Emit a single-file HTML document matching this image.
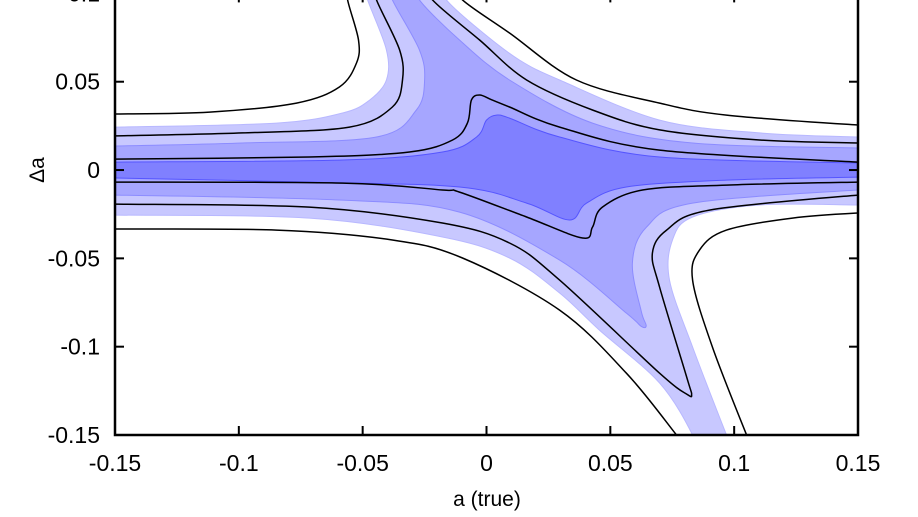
<!DOCTYPE html>
<html><head><meta charset="utf-8"><style>
html,body{margin:0;padding:0;background:#fff;}
svg{display:block;font-family:"Liberation Sans",sans-serif;}
</style></head><body>
<svg id="chart" width="918" height="517" viewBox="0 0 918 517">
<defs><clipPath id="plotclip"><rect x="115" y="-7" width="743" height="442"/></clipPath></defs>
<g id="fills" clip-path="url(#plotclip)"></g>
<g id="lines" clip-path="url(#plotclip)"></g>
<g id="axes"></g>
<text x="487" y="506" font-size="21" text-anchor="middle">a (true)</text>
<text x="44" y="170" font-size="21" text-anchor="middle" transform="rotate(-90 44 170)">Δa</text>
</svg>
<script>
// values in thousandths (a, Δa)
const xTicks = [-0.15,-0.1,-0.05,0,0.05,0.1,0.15];
const xTickLabels = ["-0.15","-0.1","-0.05","0","0.05","0.1","0.15"];
const yTicks = [-0.15,-0.1,-0.05,0,0.05,0.1];
const yTickLabels = ["-0.15","-0.1","-0.05","0","0.05","0.1"];

const lightFill = [
 [[-160,24.3],[-149.4,24.3],[-84.8,26.6],[-58.1,32.3],[-47.2,39.6],[-40.4,51.0],[-40.4,68.0],[-48,96.3],[-49,105]],
 [[-18,105],[-16.2,96.3],[-2.8,79.3],[13.3,62.3],[29.5,51.0],[69.9,28.3],[110.2,21.0],[150,18.7],[160,18.7]],
 [[160,-19.8],[150,-19.8],[110.2,-19.8],[83.2,-26.6],[75.1,-39.6],[73.9,-62.3],[83.2,-100.2],[96.9,-150],[100,-160]],
 [[84,-160],[83.2,-150],[69.9,-120.6],[45.6,-90.6],[29.5,-69.6],[9.3,-49.8],[-17.8,-37.9],[-71.5,-27.2],[-149.4,-25.5],[-160,-25.5]]
];
const midFill = [
 [[-160,13.6],[-149.4,13.6],[-98.5,15.3],[-44.4,18.7],[-28.3,34.0],[-25.0,51.0],[-27.1,68.0],[-38,96.3],[-39,105]],
 [[-28,105],[-27.1,96.3],[-10.9,73.6],[9.3,51.0],[42.8,26.6],[83.2,15.3],[150,12.5],[160,12.5]],
 [[160,-11.3],[150,-11.3],[83.2,-18.7],[64.6,-32.3],[58.9,-52.7],[62.5,-80],[64.5,-88],[62.5,-88.5],[56.5,-81],[29.5,-51],[-10.9,-23.8],[-58.1,-17],[-149.4,-14.2],[-160,-14.2]]
];
const darkFill = [
 [[-160,4.5],[-149.4,4.5],[-58.1,5.7],[-17.8,10.2],[-4.0,18.7],[0,28.3],[4.0,31.1],[9.3,29.4],[29.5,18.7],[69.9,7.4],[150,4.0],[160,4.0]],
 [[160,-4.0],[150,-4.0],[96.9,-5.7],[56.5,-9.6],[40.4,-18.7],[33.5,-28.3],[16.2,-18.7],[-10.9,-9.6],[-71.5,-6.8],[-149.4,-4.5],[-160,-4.5]]
];
const contourLines = [
 [[-56.1,105],[-56.1,96.3],[-51.7,73.6],[-52.5,60.6],[-59.4,47.0],[-76.7,37.9],[-111.8,32.8],[-150,31.7],[-160,31.7]],
 [[-12,105],[-9.7,96.3],[9.3,77.6],[36.3,51.0],[69.9,37.9],[96.9,31.1],[150,25.5],[160,25.3]],
 [[-160,-33.4],[-150,-33.4],[-84.8,-34.0],[-38,-39.6],[-9.7,-49.8],[29.5,-79.3],[56.5,-115],[76.7,-150],[80,-156]],
 [[108,-160],[105,-150],[91.2,-100.2],[83.2,-62.3],[86,-45.3],[96.9,-34],[123.5,-27.2],[150,-24.3],[160,-24.3]],
 [[-45,105],[-44.4,96.3],[-35.1,68.0],[-33.9,51.0],[-38,35.7],[-55.3,24.3],[-98.5,21.0],[-150,19.3],[-160,19.3]],
 [[-23,105],[-21.8,96.3],[-2.8,73.6],[16.2,51.0],[42.8,34.0],[69.9,22.7],[110.2,17.0],[150,15.3],[160,15.3]],
 [[-160,-19.3],[-150,-19.3],[-71.5,-21.0],[-17.8,-30.0],[9.3,-41.3],[29.5,-62.3],[69.9,-115],[81,-127],[82.8,-127],[81,-118],[69.9,-66.3],[67,-47],[72.7,-34],[90,-22.7],[150,-14.2],[160,-14.2]],
 [[-160,6.2],[-150,6.2],[-71.5,7.4],[-31.1,10.2],[-13.7,17.0],[-7.7,26.6],[-6.1,39.6],[-2.8,42.5],[2.4,39.6],[9.3,35.7],[29.5,24.3],[69.9,11.3],[150,4.5],[160,4.5]],
 [[-160,-6.8],[-150,-6.8],[-58.1,-7.4],[-17.8,-11.3],[-10.9,-12.5],[16.2,-26.6],[38.8,-38.5],[42.8,-32.3],[46.8,-21.0],[63,-11.3],[96.9,-8.5],[150,-6.8],[160,-6.8]]
];

const L=115,R=858,B=435,T=-6.6;
function xScale(v){return L+(v+0.15)/0.3*(R-L);}
function yScale(v){return B-(v+0.15)/0.25*(B-T);}
function pts(arr){return arr.map(p=>[xScale(p[0]/1000),yScale(p[1]/1000)]);}
function crPath(P,start){
  let d=start?`M${P[0][0].toFixed(1)},${P[0][1].toFixed(1)}`:`L${P[0][0].toFixed(1)},${P[0][1].toFixed(1)}`;
  for(let i=0;i<P.length-1;i++){
    const p0=P[i-1]||P[i],p1=P[i],p2=P[i+1],p3=P[i+2]||P[i+1];
    const c1=[p1[0]+(p2[0]-p0[0])/6,p1[1]+(p2[1]-p0[1])/6];
    const c2=[p2[0]-(p3[0]-p1[0])/6,p2[1]-(p3[1]-p1[1])/6];
    d+=`C${c1[0].toFixed(1)},${c1[1].toFixed(1)} ${c2[0].toFixed(1)},${c2[1].toFixed(1)} ${p2[0].toFixed(1)},${p2[1].toFixed(1)}`;
  }
  return d;
}
const NS="http://www.w3.org/2000/svg";
const fillsG=document.getElementById('fills'),linesG=document.getElementById('lines'),axesG=document.getElementById('axes');
function addFill(curves,color,stroke,name){
  let d='';curves.forEach((c,i)=>{d+=crPath(pts(c),i===0);});d+='Z';
  const p=document.createElementNS(NS,'path');
  p.setAttribute('d',d);p.setAttribute('fill',color);
  p.setAttribute('stroke',stroke);p.setAttribute('stroke-width','1');
  p.setAttribute('stroke-linejoin','round');
  
  
  fillsG.appendChild(p);
}
addFill(lightFill,'#c8c8ff','#b8b8ff','fill-level-1');
addFill(midFill,'#a6a6ff','#8c8cff','fill-level-2');
addFill(darkFill,'#8080ff','#5555ff','fill-level-3');
contourLines.forEach((c,i)=>{
  const p=document.createElementNS(NS,'path');
  p.setAttribute('d',crPath(pts(c),true));
  p.setAttribute('fill','none');p.setAttribute('stroke','#000');p.setAttribute('stroke-width','1.5');
  p.setAttribute('stroke-linejoin','round');
  
  
  linesG.appendChild(p);
});
const fr=document.createElementNS(NS,'rect');
fr.setAttribute('x',L);fr.setAttribute('y',T);fr.setAttribute('width',R-L);fr.setAttribute('height',B-T);
fr.setAttribute('fill','none');fr.setAttribute('stroke','#000');fr.setAttribute('stroke-width','2.5');


axesG.appendChild(fr);
function line(x1,y1,x2,y2,name){
  const l=document.createElementNS(NS,'line');
  l.setAttribute('x1',x1);l.setAttribute('y1',y1);l.setAttribute('x2',x2);l.setAttribute('y2',y2);
  l.setAttribute('stroke','#000');l.setAttribute('stroke-width','2');
  
  
  axesG.appendChild(l);
}
function text(x,y,s,anchor,name){
  const t=document.createElementNS(NS,'text');
  t.setAttribute('x',x);t.setAttribute('y',y);t.setAttribute('font-size','23');t.setAttribute('text-anchor',anchor);
  t.textContent=s;
  
  
  axesG.appendChild(t);
}
xTicks.forEach((v,i)=>{
  const x=xScale(v);
  line(x,B,x,B-9,'x-tick');line(x,T,x,T+9,'x-tick-top');
  text(x,471,xTickLabels[i],'middle','x-tick-label');
});
yTicks.forEach((v,i)=>{
  const y=yScale(v);
  line(L,y,L+9,y,'y-tick');line(R,y,R-9,y,'y-tick-right');
  text(100,y+8,yTickLabels[i],'end','y-tick-label');
});
</script>
</body></html>
